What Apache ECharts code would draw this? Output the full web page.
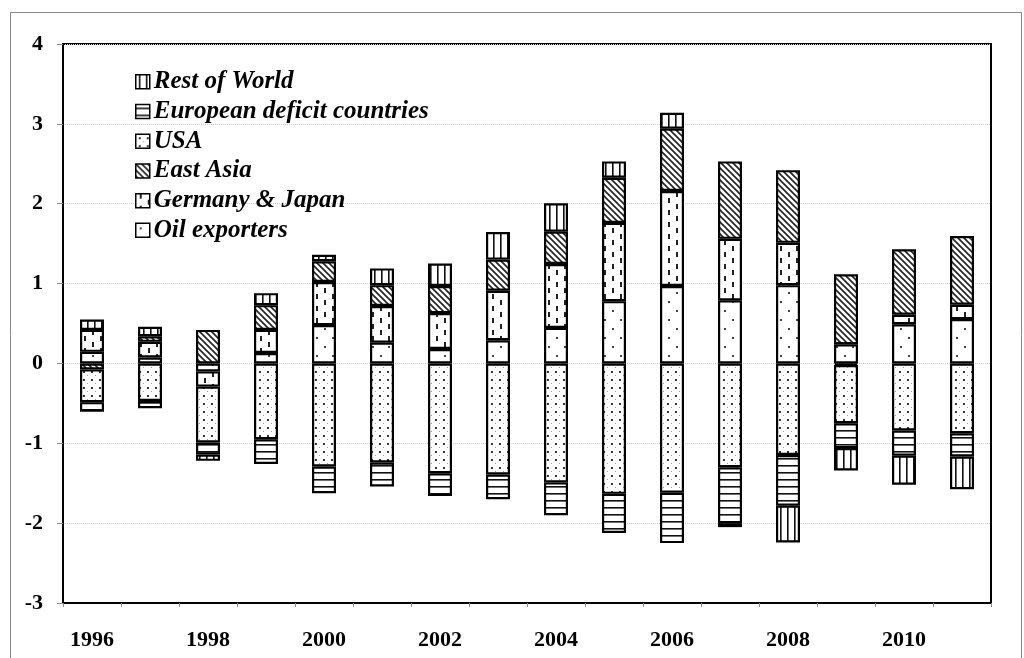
<!DOCTYPE html>
<html><head><meta charset="utf-8">
<script src="https://cdn.jsdelivr.net/npm/echarts@6/dist/echarts.min.js"></script>
<style>html,body{margin:0;padding:0;background:#fff}#c{width:1024px;height:658px}</style>
</head><body><div id="c"></div>
<script>
const years = ['1996','1997','1998','1999','2000','2001','2002','2003','2004','2005','2006','2007','2008','2009','2010','2011'];
const oilExporters   = [0.145, 0.075, -0.10, 0.13, 0.48, 0.26, 0.18, 0.29, 0.445, 0.78, 0.97, 0.79, 0.98, 0.24, 0.49, 0.555];
const germanyJapan   = [0.275, 0.195, -0.19, 0.29, 0.54, 0.46, 0.45, 0.62, 0.80, 0.98, 1.19, 0.77, 0.53, -0.02, 0.12, 0.18];
const eastAsia       = [-0.075, 0.07, 0.42, 0.31, 0.26, 0.26, 0.34, 0.39, 0.405, 0.565, 0.78, 0.97, 0.91, 0.877, 0.82, 0.86];
const usa            = [-0.41, -0.47, -0.70, -0.95, -1.29, -1.24, -1.375, -1.39, -1.49, -1.633, -1.62, -1.30, -1.146, -0.73, -0.84, -0.875];
const europeanDeficit= [-0.12, -0.09, -0.15, -0.31, -0.335, -0.30, -0.285, -0.31, -0.41, -0.49, -0.63, -0.70, -0.635, -0.31, -0.315, -0.29];
const restOfWorld    = [0.13, 0.12, -0.08, 0.15, 0.08, 0.21, 0.28, 0.345, 0.355, 0.205, 0.20, -0.05, -0.46, -0.28, -0.365, -0.41];
const yTicks = [-3,-2,-1,0,1,2,3,4];

function pat(w, h, draw) {
  const c = document.createElement('canvas');
  c.width = w; c.height = h;
  const g = c.getContext('2d');
  g.fillStyle = '#fff'; g.fillRect(0, 0, w, h);
  draw(g);
  return { image: c, repeat: 'repeat' };
}
const pRow = pat(7, 7, g => { g.fillStyle = '#111'; g.fillRect(3, 0, 1.6, 7); });
const pEur = pat(7, 7, g => { g.fillStyle = '#111'; g.fillRect(0, 3, 7, 1.6); });
const pUsa = pat(8, 8, g => { g.fillStyle = '#333'; g.fillRect(3, 3, 2, 2); g.fillStyle = '#999'; g.fillRect(7, 7, 1, 1); });
const pEa = pat(6, 6, g => {
  g.strokeStyle = '#222'; g.lineWidth = 1.6;
  g.beginPath();
  g.moveTo(-1, -1); g.lineTo(7, 7);
  g.moveTo(-1, 5); g.lineTo(1, 7);
  g.moveTo(5, -1); g.lineTo(7, 1);
  g.stroke();
});
const pGj = pat(16, 12, g => { g.fillStyle = '#222'; g.fillRect(4, 0, 2, 5); g.fillRect(12, 6, 2, 5); });
const pOil = pat(16, 18, g => { g.fillStyle = '#444'; g.fillRect(4, 4, 2, 2); g.fillRect(12, 13, 2, 2); });

const font = 'Liberation Serif';
function mk(name, data, color) {
  return {
    name, type: 'bar', stack: 'all', data, barWidth: 24,
    itemStyle: { color, borderColor: '#000', borderWidth: 2.2 },
    emphasis: { disabled: true }
  };
}
const chart = echarts.init(document.getElementById('c'));
chart.setOption({
  animation: false,
  backgroundColor: '#fff',
  graphic: [{ type: 'rect', shape: { x: 10.5, y: 12.5, width: 1011, height: 646 }, style: { fill: 'none', stroke: '#888', lineWidth: 1 }, silent: true }],
  grid: { left: 63, right: 33, top: 44, bottom: 55, show: true, borderColor: '#000', borderWidth: 2, backgroundColor: 'transparent' },
  legend: {
    orient: 'vertical', left: 135, top: 67, padding: 0, itemWidth: 14, itemHeight: 14, itemGap: 0,
    icon: 'rect',
    data: ['Rest of World', 'European deficit countries', 'USA', 'East Asia', 'Germany & Japan', 'Oil exporters'],
    itemStyle: { borderColor: '#000', borderWidth: 1.5 },
    textStyle: { fontFamily: font, fontStyle: 'italic', fontWeight: 'bold', fontSize: 25, color: '#000', lineHeight: 29.7, padding: [0, 0, 0, -1] }
  },
  xAxis: {
    type: 'category', data: years, boundaryGap: true,
    axisLine: { onZero: false, lineStyle: { color: '#000', width: 2 } },
    axisTick: { show: true, interval: 0, length: 4, lineStyle: { color: '#888' } },
    axisLabel: { interval: 1, margin: 26, fontFamily: font, fontWeight: 'bold', fontSize: 22, color: '#000' },
    splitLine: { show: false }
  },
  yAxis: {
    type: 'value', min: -3, max: 4, interval: 1,
    axisLine: { show: true, lineStyle: { color: '#000', width: 2 } },
    axisTick: { show: true, length: 6, lineStyle: { color: '#888' } },
    axisLabel: { margin: 20, fontFamily: font, fontWeight: 'bold', fontSize: 22, color: '#000',
      formatter: v => yTicks.includes(v) ? String(v) : '' },
    splitLine: { show: true, lineStyle: { color: '#ccc', type: 'dotted', width: 1 } }
  },
  series: [
    mk('Oil exporters', oilExporters, pOil),
    mk('Germany & Japan', germanyJapan, pGj),
    mk('East Asia', eastAsia, pEa),
    mk('USA', usa, pUsa),
    mk('European deficit countries', europeanDeficit, pEur),
    mk('Rest of World', restOfWorld, pRow)
  ]
});
</script></body></html>
